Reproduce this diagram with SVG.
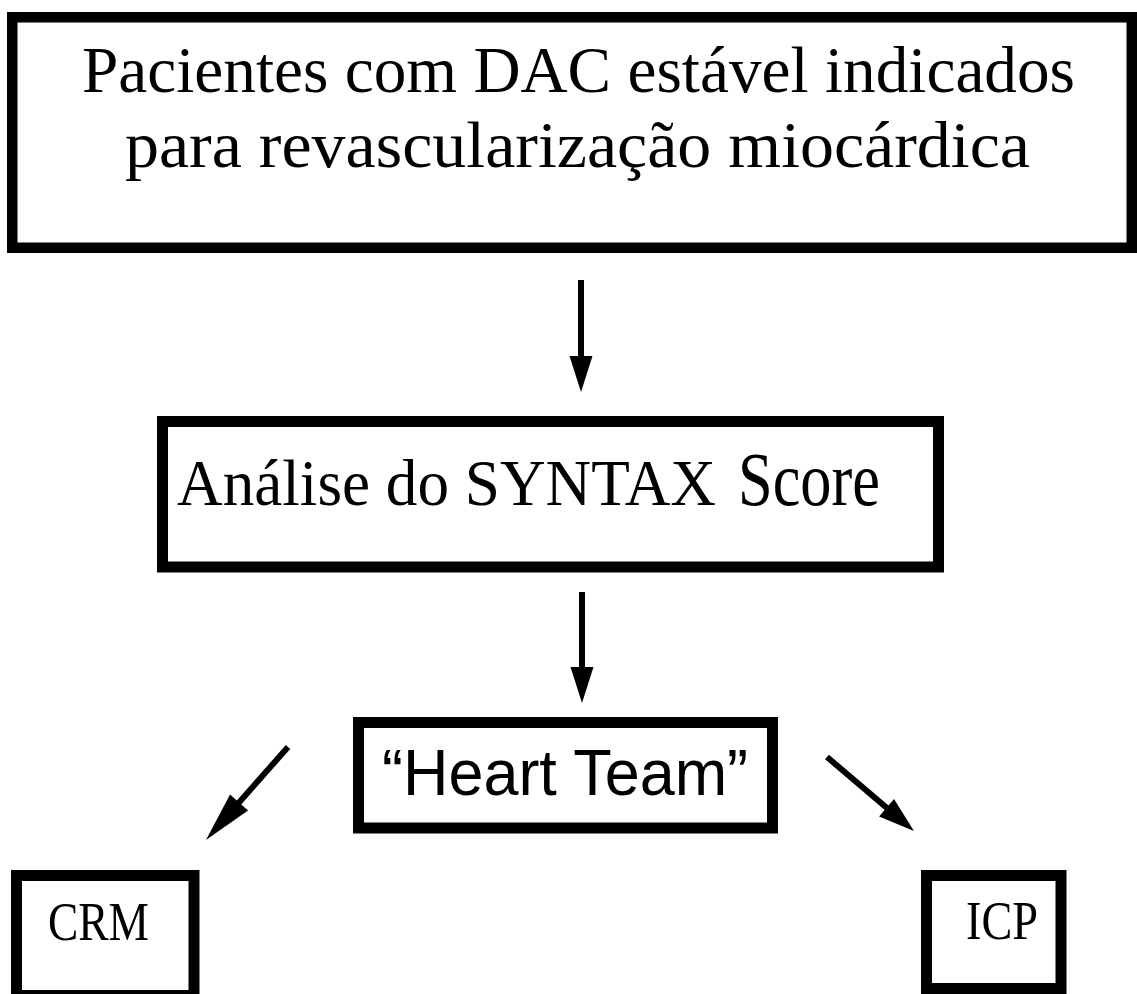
<svg xmlns="http://www.w3.org/2000/svg" width="1137" height="994" viewBox="0 0 1137 994">
<style>
.box{fill:#fff;stroke:#000;stroke-width:11}
.serif{font-family:"Liberation Serif","Times New Roman",serif;fill:#000}
.sans{font-family:"Liberation Sans",Arial,sans-serif;fill:#000}
.conn{stroke:#000;stroke-width:6;fill:none}
</style>
<defs>
<marker id="head" markerUnits="userSpaceOnUse" markerWidth="36" markerHeight="23" refX="4" refY="11.5" orient="auto" overflow="visible">
<path d="M0,0 L36,11.5 L0,23 Z" fill="#000"/>
</marker>
<marker id="headLong" markerUnits="userSpaceOnUse" markerWidth="50" markerHeight="24" refX="4" refY="12" orient="auto" overflow="visible">
<path d="M0,0 L50,12 L0,24 Z" fill="#000"/>
</marker>
</defs>
<rect width="1137" height="994" fill="#fff"/>
<g id="n-pacientes">
<rect class="box" x="12.25" y="17.25" width="1119.5" height="230.5" style="stroke-width:10.5"/>
<text class="serif" x="82" y="92" font-size="66" textLength="993" lengthAdjust="spacingAndGlyphs">Pacientes com DAC estável indicados</text>
<text class="serif" x="125" y="167" font-size="66" textLength="905" lengthAdjust="spacingAndGlyphs">para revascularização miocárdica</text>
</g>
<g id="n-syntax">
<rect class="box" x="162.5" y="421.5" width="776" height="145.5"/>
<text class="serif" x="177" y="505" font-size="66" textLength="539" lengthAdjust="spacingAndGlyphs">Análise do SYNTAX</text>
<text class="serif" x="738" y="505" font-size="76" textLength="142" lengthAdjust="spacingAndGlyphs">Score</text>
</g>
<g id="n-heart">
<rect class="box" x="358.5" y="722.5" width="414" height="105.5"/>
<text class="sans" x="382" y="795" font-size="64" textLength="366" lengthAdjust="spacingAndGlyphs">“Heart Team”</text>
</g>
<g id="n-crm">
<rect class="box" x="16.5" y="875.5" width="177.5" height="120"/>
<text class="serif" x="48" y="940" font-size="55" textLength="101" lengthAdjust="spacingAndGlyphs">CRM</text>
</g>
<g id="n-icp">
<rect class="box" x="926.5" y="875.5" width="134.5" height="113"/>
<text class="serif" x="966" y="939" font-size="55" textLength="72" lengthAdjust="spacingAndGlyphs">ICP</text>
</g>
<g id="connectors">
<line class="conn" x1="581" y1="280" x2="581" y2="360" marker-end="url(#head)"/>
<line class="conn" x1="582" y1="592" x2="582" y2="671" marker-end="url(#head)"/>
<line class="conn" x1="288" y1="747" x2="236.4" y2="805.5" marker-end="url(#headLong)"/>
<line class="conn" x1="827" y1="757" x2="889.6" y2="810.3" marker-end="url(#head)"/>
</g>
</svg>
